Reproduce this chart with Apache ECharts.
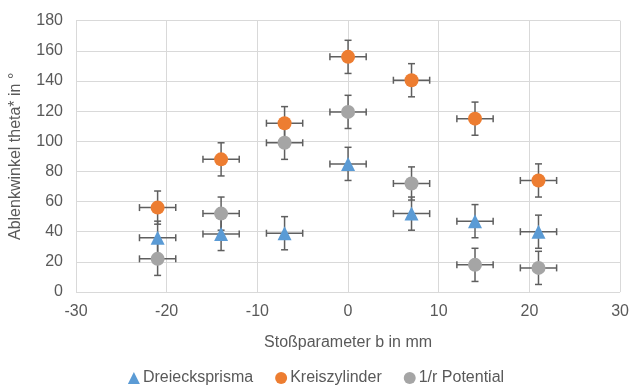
<!DOCTYPE html>
<html><head><meta charset="utf-8">
<script src="https://cdn.jsdelivr.net/npm/echarts@6/dist/echarts.min.js"></script>
<style>html,body{margin:0;padding:0;background:#fff}#c{width:632px;height:385px}</style>
</head><body><div id="c"></div>
<script>
const xValues = [-21, -14, -7, 0, 7, 14, 21];
const dreieck = [36, 38.5, 39, 85, 52, 47, 40];
const kreis = [56, 88, 112, 156, 140.5, 115, 74];
const potential = [22, 52, 99, 119.5, 72, 18, 16];
const xErr = 2;
const yErr = 11;
const seriesNames = ['Dreiecksprisma', 'Kreiszylinder', '1/r Potential'];
const colors = ['#5B9BD5', '#ED7D31', '#A5A5A5'];
const symbols = ['triangle', 'circle', 'circle'];
const allY = [dreieck, kreis, potential];

const font = 'Liberation Sans, Arial, sans-serif';
const txt = '#595959';

function errSeries(ys, idx) {
  return {
    type: 'custom', name: 'err' + idx, z: 1,
    data: xValues.map((x, i) => [x, ys[i], xErr, yErr]),
    renderItem: function (params, api) {
      const x = api.value(0), y = api.value(1), ex = api.value(2), ey = api.value(3);
      const l = api.coord([x - ex, y]), r = api.coord([x + ex, y]);
      const b = api.coord([x, y - ey]), t = api.coord([x, y + ey]);
      const c = 3.5;
      const st = { stroke: '#5f5f5f', lineWidth: 1.5 };
      return { type: 'group', children: [
        { type: 'line', shape: { x1: l[0], y1: l[1], x2: r[0], y2: r[1] }, style: st },
        { type: 'line', shape: { x1: l[0], y1: l[1] - c, x2: l[0], y2: l[1] + c }, style: st },
        { type: 'line', shape: { x1: r[0], y1: r[1] - c, x2: r[0], y2: r[1] + c }, style: st },
        { type: 'line', shape: { x1: b[0], y1: b[1], x2: t[0], y2: t[1] }, style: st },
        { type: 'line', shape: { x1: b[0] - c, y1: b[1], x2: b[0] + c, y2: b[1] }, style: st },
        { type: 'line', shape: { x1: t[0] - c, y1: t[1], x2: t[0] + c, y2: t[1] }, style: st }
      ]};
    },
    silent: true
  };
}

const series = [];
allY.forEach((ys, i) => series.push(errSeries(ys, i)));
allY.forEach((ys, i) => series.push({
  type: 'scatter', name: seriesNames[i], z: 3,
  symbol: symbols[i], symbolSize: 14,
  itemStyle: { color: colors[i], opacity: 1 },
  data: xValues.map((x, j) => [x, ys[j]])
}));

const chart = echarts.init(document.getElementById('c'), null, { renderer: 'canvas' });
chart.setOption({
  animation: false,
  textStyle: { fontFamily: font },
  grid: { left: 72, right: 10, top: 20.7, bottom: 93 },
  xAxis: {
    type: 'value', min: -30, max: 30, interval: 10,
    name: 'Stoßparameter b in mm', nameLocation: 'middle', nameGap: 43,
    nameTextStyle: { color: txt, fontSize: 16, fontFamily: font },
    axisLine: { show: false }, axisTick: { show: false },
    axisLabel: { color: txt, fontSize: 16, fontFamily: font, margin: 12 },
    splitLine: { show: true, lineStyle: { color: '#d9d9d9', width: 1 } }
  },
  yAxis: {
    type: 'value', min: 0, max: 180, interval: 20,
    name: 'Ablenkwinkel theta* in °', nameLocation: 'middle', nameGap: 52, nameRotate: 90,
    nameTextStyle: { color: txt, fontSize: 16, fontFamily: font },
    axisLine: { show: false }, axisTick: { show: false },
    axisLabel: { color: txt, fontSize: 16, fontFamily: font, margin: 13 },
    splitLine: { show: true, lineStyle: { color: '#d9d9d9', width: 1 } }
  },
  legend: {
    data: seriesNames.map((n, i) => ({ name: n, icon: symbols[i] })),
    left: 'center', top: 365, itemWidth: 12, itemHeight: 12, itemGap: 22,
    textStyle: { color: txt, fontSize: 16, fontFamily: font, padding: [0, 0, 0, -2] }
  },
  series: series
});
</script></body></html>
